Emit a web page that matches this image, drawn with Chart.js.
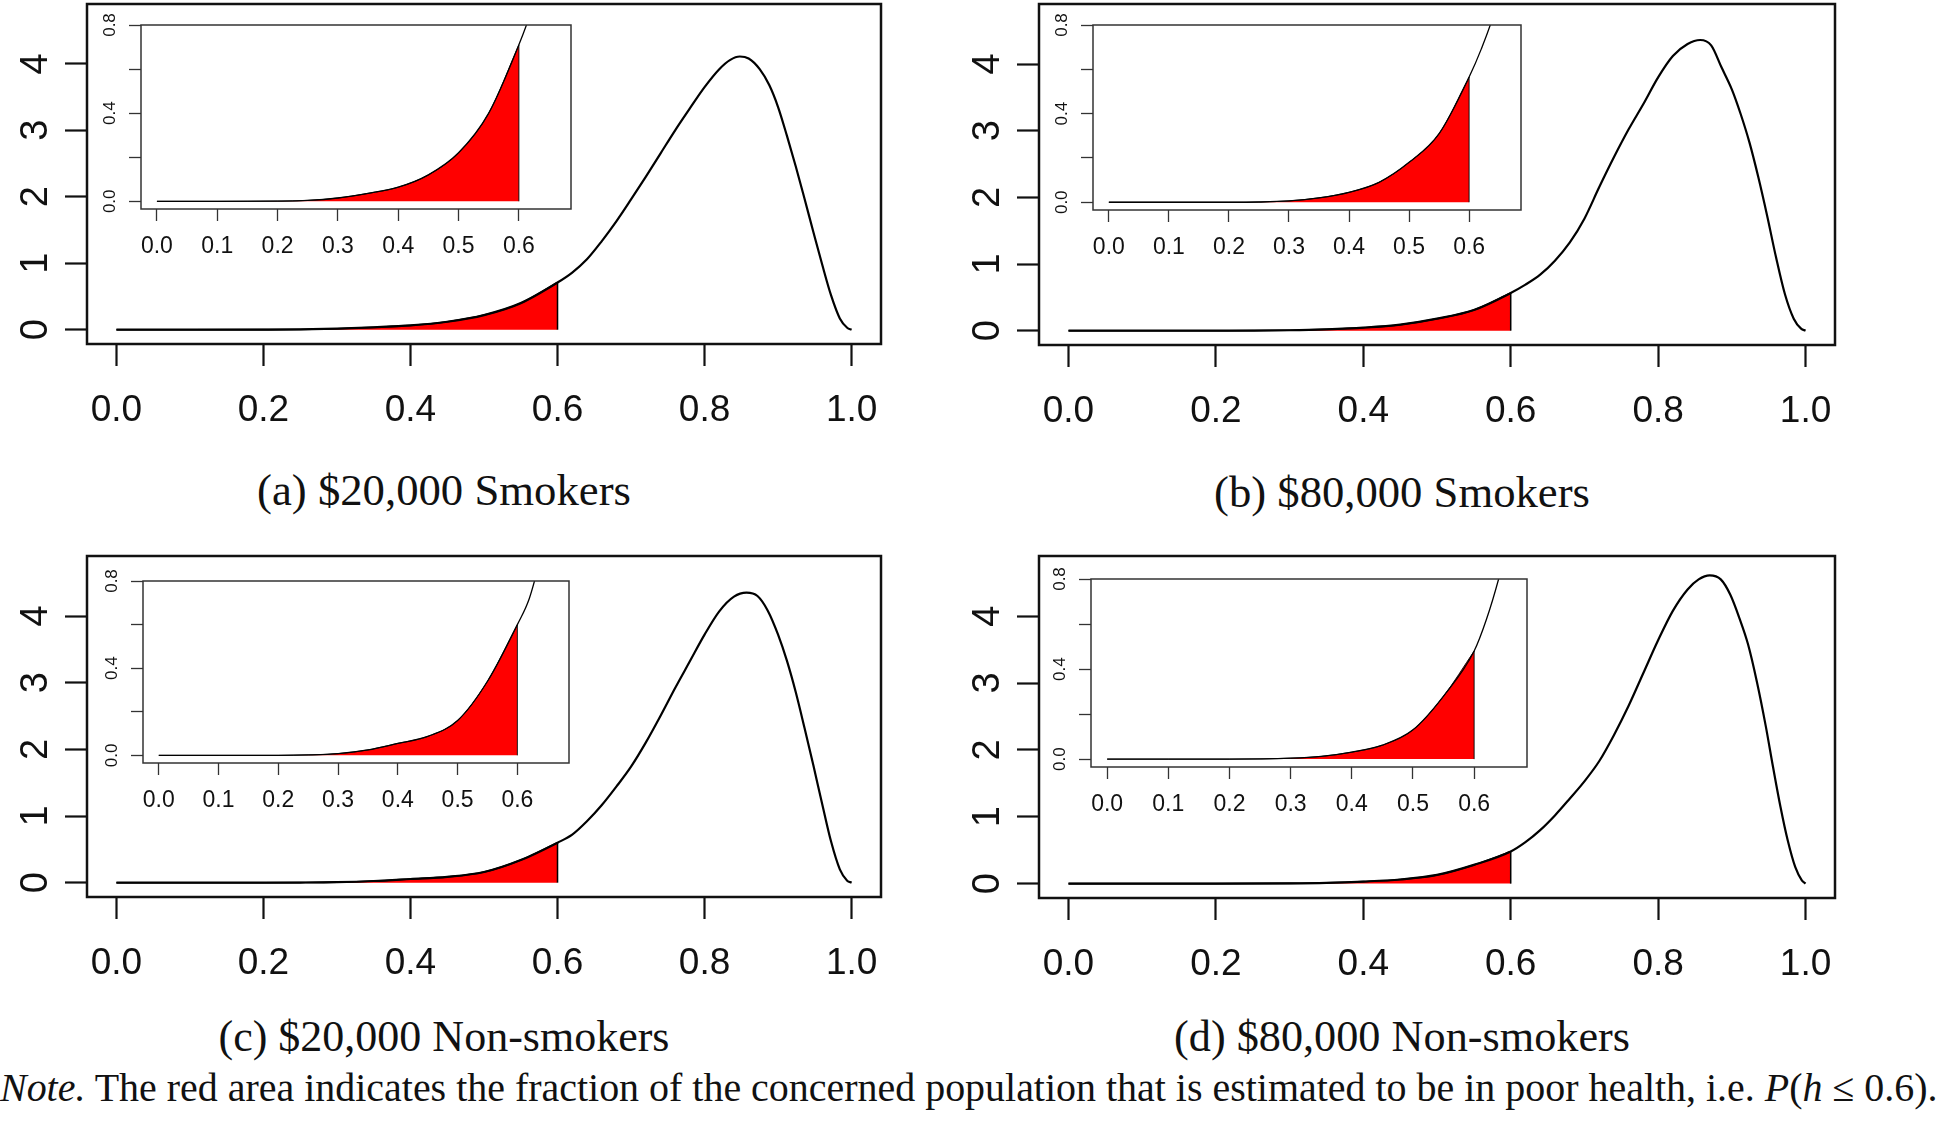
<!DOCTYPE html>
<html>
<head>
<meta charset="utf-8">
<script src="https://cdn.jsdelivr.net/npm/chart.js@4.4.1/dist/chart.umd.min.js"></script>
<style>
    body {
        margin: 0;
        width: 1943px;
        height: 1139px;
        background: #fff;
        position: relative;
        overflow: hidden;
    }
    canvas {
        position: absolute;
    }
    .cap {
        position: absolute;
        font-family: 'Liberation Serif', 'DejaVu Serif', serif;
        font-size: 40px;
        line-height: 1;
        color: #111;
        white-space: nowrap;
        transform: translate(-50%, -50%);
    }
    #note {
        position: absolute;
        left: 0;
        top: 1088px;
        font-family: 'Liberation Serif', 'DejaVu Serif', serif;
        font-size: 34px;
        line-height: 1;
        color: #111;
        white-space: nowrap;
        transform: translateY(-50%);
    }
</style>
</head>
<body>

<div class="cap" id="capA" style="left:444px;top:490px">(a) $20,000 Smokers</div>
<div class="cap" id="capB" style="left:1402px;top:492px">(b) $80,000 Smokers</div>
<div class="cap" id="capC" style="left:444px;top:1037px">(c) $20,000 Non-smokers</div>
<div class="cap" id="capD" style="left:1402px;top:1037px">(d) $80,000 Non-smokers</div>
<div id="note"><i>Note.</i> The red area indicates the fraction of the concerned population that is estimated to be in poor health, i.e. <i>P</i>(<i>h</i> &le; 0.6).</div>

<script>
    // ticks
    const mainXTicks = [0, 0.2, 0.4, 0.6, 0.8, 1.0];
    const mainXLabels = ['0.0', '0.2', '0.4', '0.6', '0.8', '1.0'];
    const mainYTicks = [0, 1, 2, 3, 4];
    const mainYLabels = ['0', '1', '2', '3', '4'];
    const insetXTicks = [0, 0.1, 0.2, 0.3, 0.4, 0.5, 0.6];
    const insetXLabels = ['0.0', '0.1', '0.2', '0.3', '0.4', '0.5', '0.6'];
    const insetYTicks = [0, 0.2, 0.4, 0.6, 0.8];
    const insetYLabels = ['0.0', '', '0.4', '', '0.8'];
    const cutoff = 0.6;

    // density of health h
    const hA = [0, 0.1, 0.2, 0.25, 0.3, 0.35, 0.4, 0.45, 0.5, 0.55, 0.6, 0.62, 0.64, 0.66, 0.68, 0.70, 0.72, 0.74, 0.76, 0.78, 0.80, 0.82, 0.835, 0.848, 0.86, 0.875, 0.888, 0.90, 0.912, 0.924, 0.936, 0.948, 0.96, 0.972, 0.984, 0.994, 1.0];
    const densA = [0, 0, 0.001, 0.004, 0.015, 0.036, 0.064, 0.12, 0.22, 0.40, 0.71, 0.86, 1.06, 1.33, 1.63, 1.96, 2.30, 2.65, 3.00, 3.33, 3.65, 3.92, 4.06, 4.11, 4.08, 3.92, 3.68, 3.35, 2.92, 2.46, 1.97, 1.47, 0.98, 0.52, 0.17, 0.03, 0];

    const hB = [0, 0.1, 0.2, 0.25, 0.3, 0.35, 0.4, 0.45, 0.5, 0.55, 0.6, 0.62, 0.64, 0.66, 0.68, 0.70, 0.72, 0.74, 0.76, 0.78, 0.80, 0.82, 0.84, 0.857, 0.872, 0.886, 0.90, 0.912, 0.924, 0.936, 0.948, 0.96, 0.972, 0.984, 0.994, 1.0];
    const densB = [0, 0, 0, 0.001, 0.006, 0.02, 0.045, 0.09, 0.18, 0.31, 0.565, 0.69, 0.84, 1.05, 1.32, 1.68, 2.15, 2.60, 3.02, 3.40, 3.80, 4.12, 4.30, 4.36, 4.28, 3.95, 3.62, 3.25, 2.82, 2.30, 1.72, 1.10, 0.55, 0.18, 0.03, 0];

    const hC = [0, 0.1, 0.2, 0.25, 0.3, 0.35, 0.4, 0.45, 0.5, 0.55, 0.6, 0.62, 0.64, 0.66, 0.68, 0.70, 0.72, 0.74, 0.76, 0.78, 0.80, 0.82, 0.84, 0.857, 0.872, 0.886, 0.90, 0.912, 0.924, 0.936, 0.948, 0.96, 0.972, 0.984, 0.994, 1.0];
    const densC = [0, 0, 0, 0.002, 0.008, 0.025, 0.055, 0.087, 0.16, 0.34, 0.60, 0.72, 0.92, 1.16, 1.44, 1.74, 2.10, 2.50, 2.92, 3.32, 3.72, 4.07, 4.29, 4.35, 4.30, 4.08, 3.72, 3.33, 2.86, 2.32, 1.76, 1.18, 0.62, 0.20, 0.03, 0];

    const hD = [0, 0.1, 0.2, 0.3, 0.35, 0.4, 0.45, 0.5, 0.55, 0.6, 0.62, 0.64, 0.66, 0.68, 0.70, 0.72, 0.74, 0.76, 0.78, 0.80, 0.82, 0.84, 0.855, 0.87, 0.885, 0.898, 0.91, 0.922, 0.934, 0.946, 0.956, 0.966, 0.976, 0.986, 0.995, 1.0];
    const densD = [0, 0, 0, 0.004, 0.012, 0.031, 0.062, 0.13, 0.28, 0.48, 0.62, 0.80, 1.02, 1.27, 1.53, 1.83, 2.22, 2.66, 3.15, 3.64, 4.08, 4.40, 4.55, 4.61, 4.55, 4.32, 3.98, 3.58, 3.02, 2.36, 1.74, 1.15, 0.64, 0.25, 0.05, 0];

    // where each panel sits on the page: plot box [left, top, right, bottom]
    const panels = [
        {h: hA, d: densA, box: [87, 4, 881, 344], inset: [141, 25, 571, 209]},
        {h: hB, d: densB, box: [1039, 4, 1835, 345], inset: [1093, 25, 1521, 210]},
        {h: hC, d: densC, box: [87, 556, 881, 897], inset: [143, 581, 569, 763]},
        {h: hD, d: densD, box: [1039, 556, 1835, 898], inset: [1091, 579, 1527, 767]}
    ];

    const tickFont = "'Liberation Sans', Arial, sans-serif";

    // R style box round the plot region
    const boxPlugin = {
        id: 'rbox',
        afterDraw(chart, args, opts) {
            const a = chart.chartArea, ctx = chart.ctx;
            ctx.save();
            ctx.strokeStyle = opts.color;
            ctx.lineWidth = opts.width;
            ctx.strokeRect(a.left, a.top, a.right - a.left, a.bottom - a.top);
            ctx.restore();
        }
    };

    function makeChart(p, box, s) {
        const [L, T, R, B] = box;
        const cl = L - s.yw, ct = T - s.pt;
        const W = R - L + s.yw + s.pr, H = B - T + s.pt + s.xh;
        const cv = document.createElement('canvas');
        cv.width = W; cv.height = H;
        cv.style.left = cl + 'px'; cv.style.top = ct + 'px';
        cv.style.width = W + 'px'; cv.style.height = H + 'px';
        document.body.appendChild(cv);

        const pts = p.h.map((x, i) => ({x: x, y: p.d[i]}));
        const tail = pts.filter(pt => pt.x <= cutoff);
        const edge = [{x: cutoff, y: 0}, {x: cutoff, y: tail[tail.length - 1].y}];

        new Chart(cv, {
            type: 'line',
            data: {
                datasets: [{
                    data: pts,
                    borderColor: '#000',
                    borderWidth: s.lw,
                    pointRadius: 0,
                    fill: false,
                    cubicInterpolationMode: 'monotone',
                    order: 1
                }, {
                    data: tail,
                    borderColor: '#000',
                    borderWidth: s.lw * 0.7,
                    backgroundColor: '#ff0000',
                    pointRadius: 0,
                    fill: 'origin',
                    cubicInterpolationMode: 'monotone',
                    order: 2
                }, {
                    data: edge,
                    borderColor: '#000',
                    borderWidth: s.lw * 0.7,
                    pointRadius: 0,
                    fill: false,
                    tension: 0,
                    order: 0
                }]
            },
            options: {
                responsive: false,
                animation: false,
                events: [],
                layout: {padding: {top: s.pt, right: s.pr, left: 0, bottom: 0}},
                plugins: {
                    legend: {display: false},
                    tooltip: {enabled: false},
                    rbox: {color: s.boxColor, width: s.boxW}
                },
                scales: {
                    x: {
                        type: 'linear',
                        min: s.xmin, max: s.xmax,
                        afterBuildTicks: sc => { sc.ticks = s.xt.map(v => ({value: v})); },
                        afterFit: sc => { sc.height = s.xh; sc.paddingLeft = 0; sc.paddingRight = 0; },
                        border: {display: false},
                        grid: {drawOnChartArea: false, tickLength: s.tl, tickWidth: s.tw, tickColor: s.boxColor},
                        ticks: {
                            autoSkip: false, maxRotation: 0, minRotation: 0,
                            padding: s.xpad, color: '#111',
                            font: {family: tickFont, size: s.xfs},
                            callback: (v, i) => s.xl[i]
                        }
                    },
                    y: {
                        type: 'linear',
                        min: s.ymin, max: s.ymax,
                        afterBuildTicks: sc => { sc.ticks = s.yt.map(v => ({value: v})); },
                        afterFit: sc => { sc.width = s.yw; sc.paddingTop = 0; sc.paddingBottom = 0; },
                        border: {display: false},
                        grid: {drawOnChartArea: false, tickLength: s.tl, tickWidth: s.tw, tickColor: s.boxColor},
                        ticks: {
                            autoSkip: false, minRotation: 90, maxRotation: 90,
                            crossAlign: 'center',
                            padding: s.ypad, color: '#111',
                            font: {family: tickFont, size: s.yfs},
                            callback: (v, i) => s.yl[i]
                        }
                    }
                }
            },
            plugins: [boxPlugin]
        });
    }

    const mainStyle = {
        yw: 87, pt: 4, pr: 20, xh: 120,
        xmin: -0.04, xmax: 1.04, ymin: -0.215, ymax: 4.9,
        xt: mainXTicks, xl: mainXLabels, yt: mainYTicks, yl: mainYLabels,
        tl: 22, tw: 2.2, lw: 2.2, boxColor: '#111', boxW: 2.5,
        xfs: 37, yfs: 38, xpad: 23, ypad: 18
    };
    const insetStyle = {
        yw: 60, pt: 22, pr: 10, xh: 60,
        xmin: -0.0264, xmax: 0.6864, ymin: -0.035, ymax: 0.8,
        xt: insetXTicks, xl: insetXLabels, yt: insetYTicks, yl: insetYLabels,
        tl: 12, tw: 1.3, lw: 1.3, boxColor: '#333', boxW: 1.5,
        xfs: 23, yfs: 17, xpad: 12, ypad: 7
    };

    panels.forEach(p => {
        makeChart(p, p.box, mainStyle);
        makeChart(p, p.inset, insetStyle);
    });

    // captions and note: match the widths measured on the figure
    function fitWidth(id, target) {
        const el = document.getElementById(id);
        const w = el.getBoundingClientRect().width;
        const fs = parseFloat(getComputedStyle(el).fontSize);
        el.style.fontSize = (fs * target / w) + 'px';
    }
    fitWidth('capA', 374);
    fitWidth('capB', 376);
    fitWidth('capC', 451);
    fitWidth('capD', 456);
    fitWidth('note', 1938);
</script>
</body>
</html>
